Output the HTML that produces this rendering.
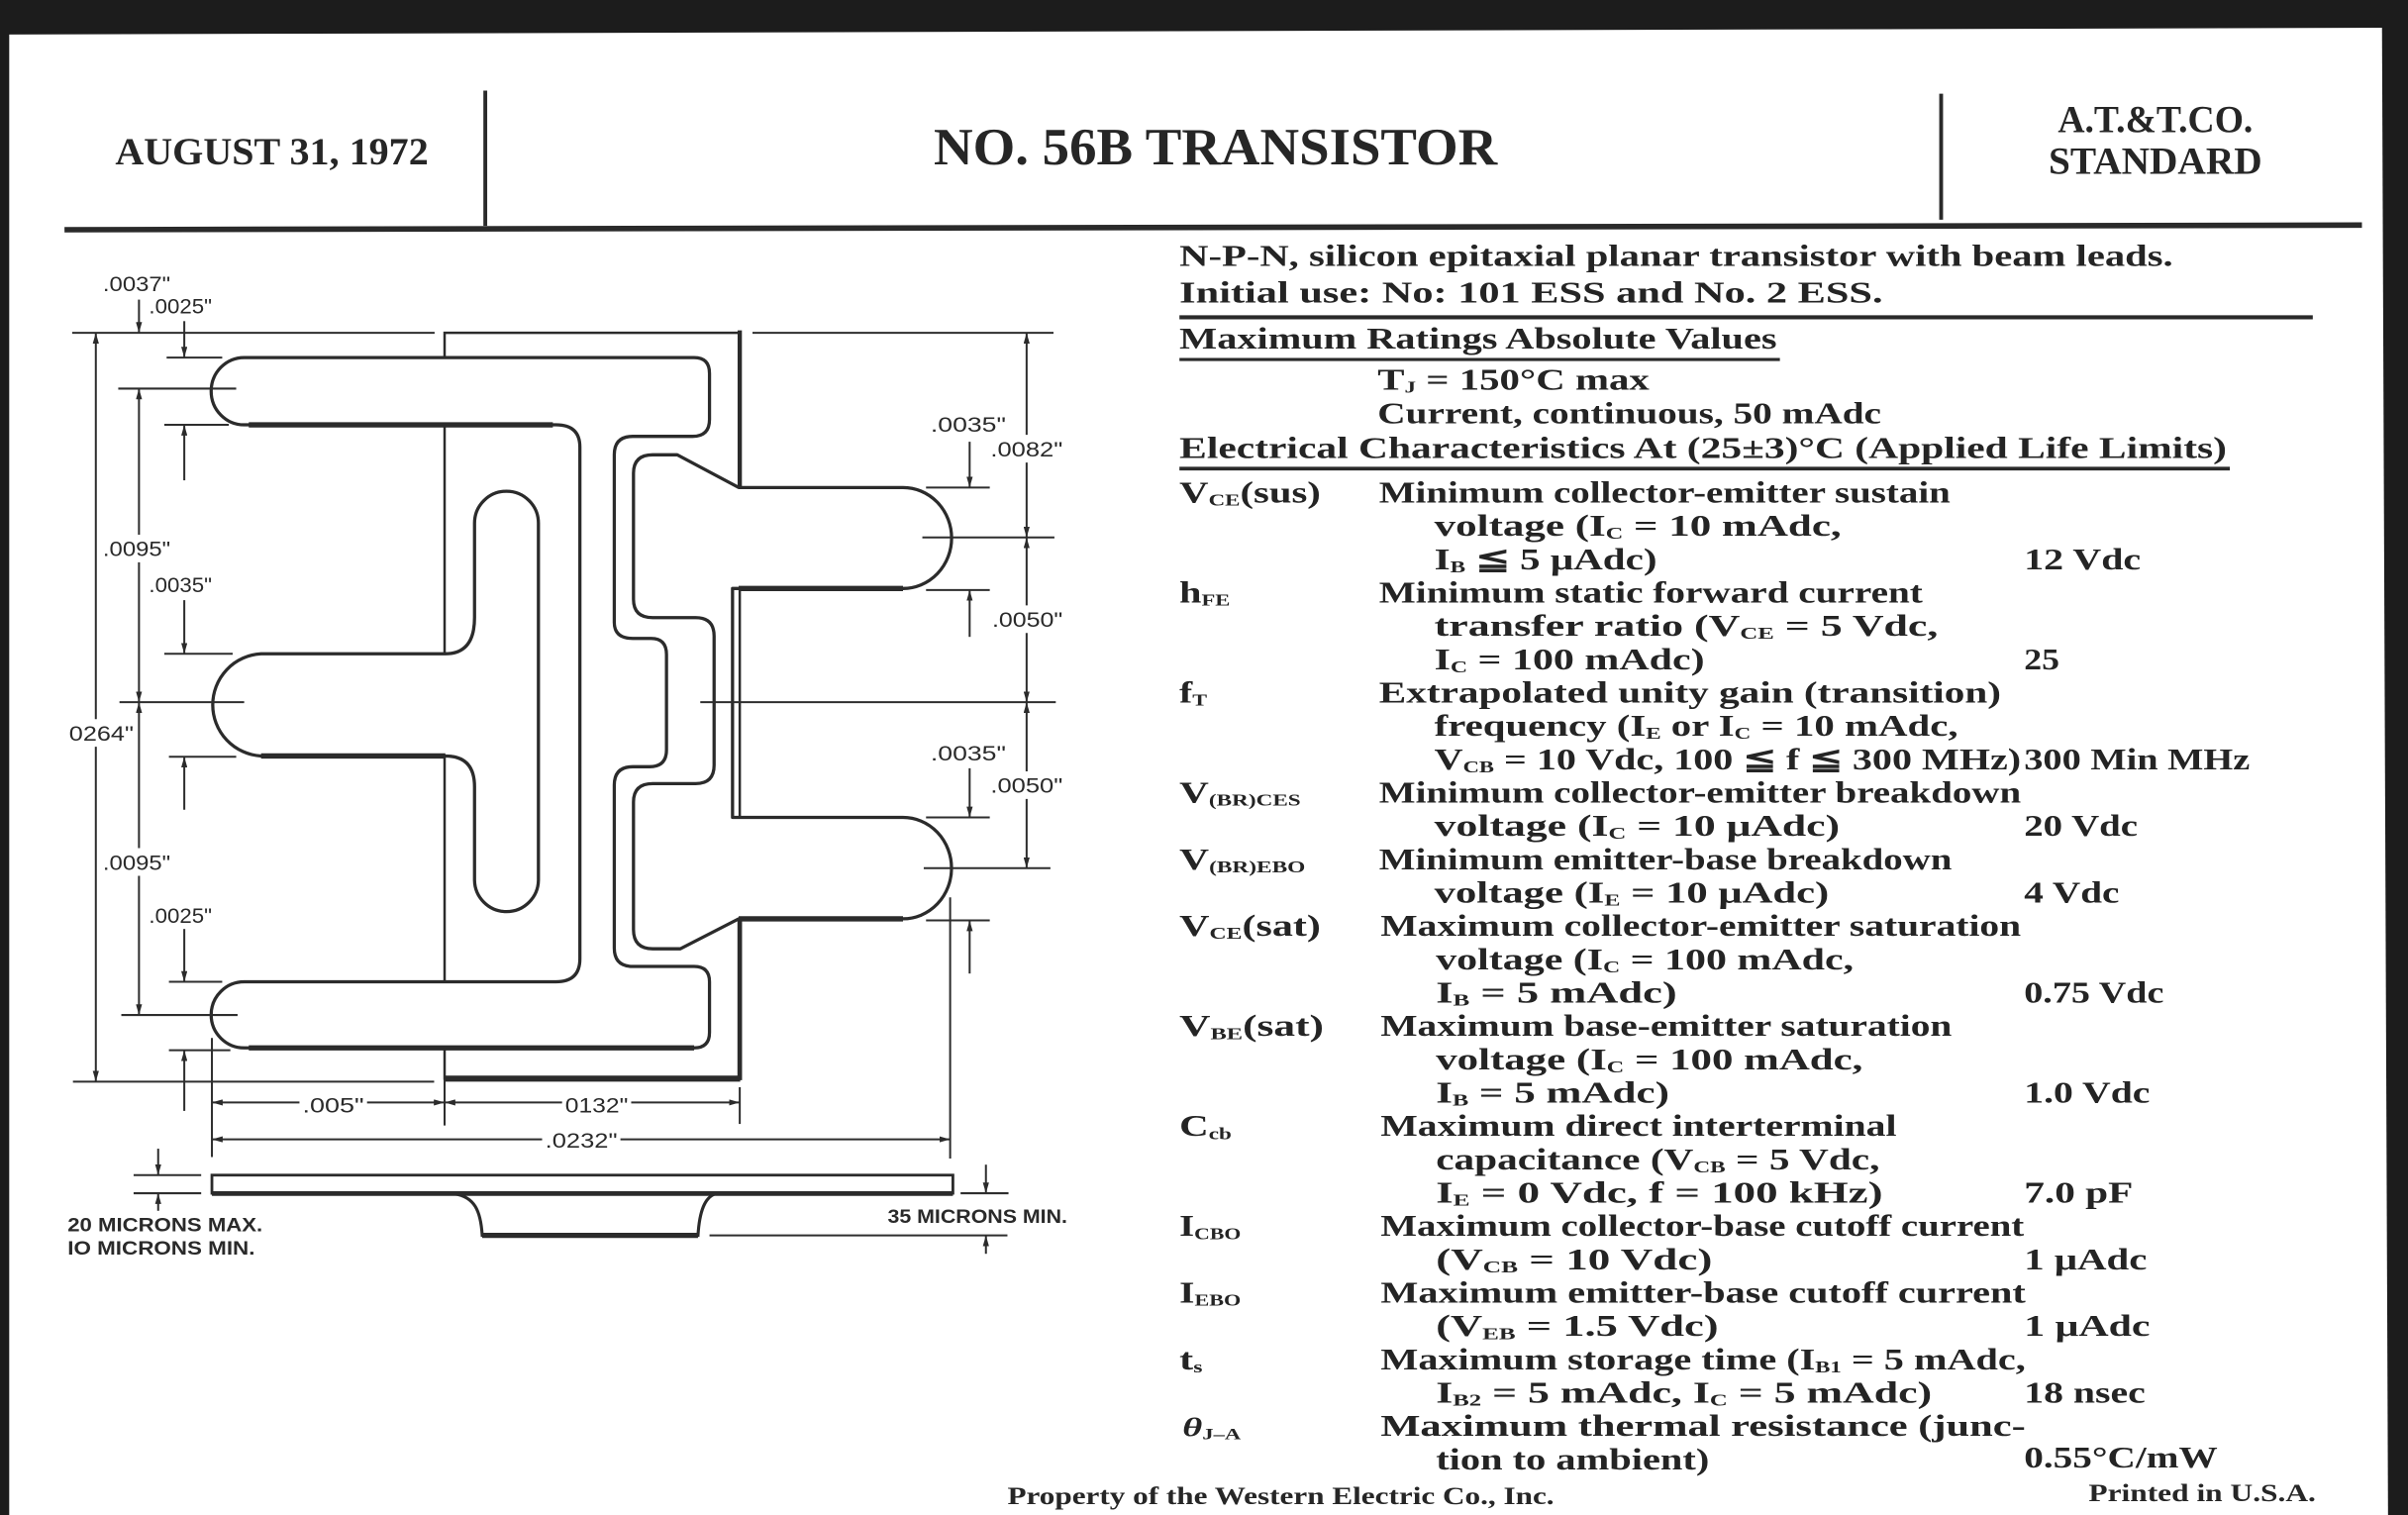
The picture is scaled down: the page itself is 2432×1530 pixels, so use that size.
<!DOCTYPE html>
<html><head><meta charset="utf-8">
<style>
html,body{margin:0;padding:0;background:#fff;overflow:hidden;}
svg{display:block;}
.b{font-family:"Liberation Serif",serif;font-weight:bold;font-size:19.5px;fill:#242424;}
.h{font-family:"Liberation Serif",serif;font-weight:bold;fill:#262626;}
.d{font-family:"Liberation Sans Narrow","Liberation Sans",sans-serif;font-size:14px;fill:#2a2a2a;}
.m{font-family:"Liberation Sans Narrow","Liberation Sans",sans-serif;font-size:12.5px;fill:#2a2a2a;font-weight:bold;}
.ln{stroke:#2e2e2e;stroke-width:1.3;fill:none;}
.ol{stroke:#2b2b2b;stroke-width:2.1;fill:#fff;stroke-linejoin:round;}
.tk{stroke:#2b2b2b;stroke-width:3.4;fill:none;}
</style></head>
<body>
<svg width="2432" height="1530" viewBox="0 0 1568 986" preserveAspectRatio="none" xmlns="http://www.w3.org/2000/svg">
<defs>
<marker id="ar" viewBox="0 0 7 4" refX="7" refY="2" markerWidth="7" markerHeight="4" markerUnits="userSpaceOnUse" orient="auto"><path d="M0,0L7,2L0,4Z" fill="#2b2b2b"/></marker>
</defs>
<rect x="0" y="0" width="1568" height="986" fill="#fff"/>
<!-- black scan borders -->
<polygon points="0,0 1568,0 1568,18 0,22.5" fill="#1c1c1c"/>
<rect x="0" y="0" width="6" height="986" fill="#1c1c1c"/>
<polygon points="1551,0 1568,0 1568,986 1555,986" fill="#1c1c1c"/>

<!-- header -->
<text class="h" x="75" y="107" font-size="25" textLength="204" lengthAdjust="spacingAndGlyphs">AUGUST 31, 1972</text>
<line x1="316" y1="59" x2="316" y2="147" stroke="#2a2a2a" stroke-width="2.5"/>
<text class="h" x="608" y="107" font-size="34" textLength="367" lengthAdjust="spacingAndGlyphs">NO. 56B TRANSISTOR</text>
<line x1="1264" y1="61" x2="1264" y2="143" stroke="#2a2a2a" stroke-width="2.5"/>
<text class="h" x="1340" y="86" font-size="25" textLength="127" lengthAdjust="spacingAndGlyphs">A.T.&amp;T.CO.</text>
<text class="h" x="1334" y="113" font-size="25" textLength="139" lengthAdjust="spacingAndGlyphs">STANDARD</text>
<line x1="42" y1="149.5" x2="1538" y2="146.5" stroke="#2a2a2a" stroke-width="3.6"/>

<!-- right column headings -->
<g class="b">
<text x="768" y="173" textLength="647" lengthAdjust="spacingAndGlyphs" font-size="20">N-P-N, silicon epitaxial planar transistor with beam leads.</text>
<text x="768" y="197" textLength="458" lengthAdjust="spacingAndGlyphs" font-size="20">Initial use: No: 101 ESS and No. 2 ESS.</text>
<text x="768" y="227" textLength="389" lengthAdjust="spacingAndGlyphs">Maximum Ratings Absolute Values</text>
<text x="897" y="253.5" textLength="177" lengthAdjust="spacingAndGlyphs">T<tspan dy="2" font-size="11">J</tspan><tspan dy="-2"> = 150°C max</tspan></text>
<text x="897" y="275.5" textLength="328" lengthAdjust="spacingAndGlyphs">Current, continuous, 50 mAdc</text>
<text x="768" y="298" textLength="682" lengthAdjust="spacingAndGlyphs">Electrical Characteristics At (25±3)°C (Applied Life Limits)</text>
</g>
<line x1="768" y1="206.5" x2="1506" y2="206.5" stroke="#2a2a2a" stroke-width="2.6"/>
<line x1="768" y1="234" x2="1159" y2="234" stroke="#2a2a2a" stroke-width="2"/>
<line x1="768" y1="305" x2="1452" y2="305" stroke="#2a2a2a" stroke-width="2.4"/>

<!-- table -->
<g class="b">
<text x="768" y="327" textLength="92" lengthAdjust="spacingAndGlyphs">V<tspan dy="2" font-size="11">CE</tspan><tspan dy="-2">(sus)</tspan></text>
<text x="898" y="327" textLength="372" lengthAdjust="spacingAndGlyphs">Minimum collector-emitter sustain</text>
<text x="934" y="348.7" textLength="265" lengthAdjust="spacingAndGlyphs">voltage (I<tspan dy="2" font-size="11">C</tspan><tspan dy="-2"> = 10 mAdc,</tspan></text>
<text x="934" y="370.4" textLength="145" lengthAdjust="spacingAndGlyphs">I<tspan dy="2" font-size="11">B</tspan><tspan dy="-2"> ≦ 5 μAdc)</tspan></text>
<text x="1318" y="370.4" textLength="76" lengthAdjust="spacingAndGlyphs">12 Vdc</text>

<text x="768" y="392.1" textLength="33" lengthAdjust="spacingAndGlyphs">h<tspan dy="2" font-size="11">FE</tspan></text>
<text x="898" y="392.1" textLength="354" lengthAdjust="spacingAndGlyphs">Minimum static forward current</text>
<text x="934" y="413.8" textLength="328" lengthAdjust="spacingAndGlyphs">transfer ratio (V<tspan dy="2" font-size="11">CE</tspan><tspan dy="-2"> = 5 Vdc,</tspan></text>
<text x="934" y="435.5" textLength="176" lengthAdjust="spacingAndGlyphs">I<tspan dy="2" font-size="11">C</tspan><tspan dy="-2"> = 100 mAdc)</tspan></text>
<text x="1318" y="435.5" textLength="23" lengthAdjust="spacingAndGlyphs">25</text>

<text x="768" y="457.2" textLength="18" lengthAdjust="spacingAndGlyphs">f<tspan dy="2" font-size="11">T</tspan></text>
<text x="898" y="457.2" textLength="405" lengthAdjust="spacingAndGlyphs">Extrapolated unity gain (transition)</text>
<text x="934" y="478.9" textLength="341" lengthAdjust="spacingAndGlyphs">frequency (I<tspan dy="2" font-size="11">E</tspan><tspan dy="-2"> or I</tspan><tspan dy="2" font-size="11">C</tspan><tspan dy="-2"> = 10 mAdc,</tspan></text>
<text x="934" y="500.6" textLength="382" lengthAdjust="spacingAndGlyphs">V<tspan dy="2" font-size="11">CB</tspan><tspan dy="-2"> = 10 Vdc, 100 ≦ f ≦ 300 MHz)</tspan></text>
<text x="1318" y="500.6" textLength="147" lengthAdjust="spacingAndGlyphs">300 Min MHz</text>

<text x="768" y="522.3" textLength="79" lengthAdjust="spacingAndGlyphs">V<tspan dy="2" font-size="11">(BR)CES</tspan></text>
<text x="898" y="522.3" textLength="418" lengthAdjust="spacingAndGlyphs">Minimum collector-emitter breakdown</text>
<text x="934" y="544" textLength="264" lengthAdjust="spacingAndGlyphs">voltage (I<tspan dy="2" font-size="11">C</tspan><tspan dy="-2"> = 10 μAdc)</tspan></text>
<text x="1318" y="544" textLength="74" lengthAdjust="spacingAndGlyphs">20 Vdc</text>

<text x="768" y="565.7" textLength="82" lengthAdjust="spacingAndGlyphs">V<tspan dy="2" font-size="11">(BR)EBO</tspan></text>
<text x="898" y="565.7" textLength="373" lengthAdjust="spacingAndGlyphs">Minimum emitter-base breakdown</text>
<text x="934" y="587.4" textLength="257" lengthAdjust="spacingAndGlyphs">voltage (I<tspan dy="2" font-size="11">E</tspan><tspan dy="-2"> = 10 μAdc)</tspan></text>
<text x="1318" y="587.4" textLength="62" lengthAdjust="spacingAndGlyphs">4 Vdc</text>

<text x="768" y="609.1" textLength="92" lengthAdjust="spacingAndGlyphs">V<tspan dy="2" font-size="11">CE</tspan><tspan dy="-2">(sat)</tspan></text>
<text x="899" y="609.1" textLength="417" lengthAdjust="spacingAndGlyphs">Maximum collector-emitter saturation</text>
<text x="935" y="630.8" textLength="272" lengthAdjust="spacingAndGlyphs">voltage (I<tspan dy="2" font-size="11">C</tspan><tspan dy="-2"> = 100 mAdc,</tspan></text>
<text x="935" y="652.5" textLength="157" lengthAdjust="spacingAndGlyphs">I<tspan dy="2" font-size="11">B</tspan><tspan dy="-2"> = 5 mAdc)</tspan></text>
<text x="1318" y="652.5" textLength="91" lengthAdjust="spacingAndGlyphs">0.75 Vdc</text>

<text x="768" y="674.2" textLength="94" lengthAdjust="spacingAndGlyphs">V<tspan dy="2" font-size="11">BE</tspan><tspan dy="-2">(sat)</tspan></text>
<text x="899" y="674.2" textLength="372" lengthAdjust="spacingAndGlyphs">Maximum base-emitter saturation</text>
<text x="935" y="695.9" textLength="278" lengthAdjust="spacingAndGlyphs">voltage (I<tspan dy="2" font-size="11">C</tspan><tspan dy="-2"> = 100 mAdc,</tspan></text>
<text x="935" y="717.6" textLength="152" lengthAdjust="spacingAndGlyphs">I<tspan dy="2" font-size="11">B</tspan><tspan dy="-2"> = 5 mAdc)</tspan></text>
<text x="1318" y="717.6" textLength="82" lengthAdjust="spacingAndGlyphs">1.0 Vdc</text>

<text x="768" y="739.3" textLength="34" lengthAdjust="spacingAndGlyphs">C<tspan dy="2" font-size="11">cb</tspan></text>
<text x="899" y="739.3" textLength="336" lengthAdjust="spacingAndGlyphs">Maximum direct interterminal</text>
<text x="935" y="761" textLength="289" lengthAdjust="spacingAndGlyphs">capacitance (V<tspan dy="2" font-size="11">CB</tspan><tspan dy="-2"> = 5 Vdc,</tspan></text>
<text x="935" y="782.7" textLength="291" lengthAdjust="spacingAndGlyphs">I<tspan dy="2" font-size="11">E</tspan><tspan dy="-2"> = 0 Vdc, f = 100 kHz)</tspan></text>
<text x="1318" y="782.7" textLength="71" lengthAdjust="spacingAndGlyphs">7.0 pF</text>

<text x="768" y="804.4" textLength="40" lengthAdjust="spacingAndGlyphs">I<tspan dy="2" font-size="11">CBO</tspan></text>
<text x="899" y="804.4" textLength="419" lengthAdjust="spacingAndGlyphs">Maximum collector-base cutoff current</text>
<text x="935" y="826.1" textLength="180" lengthAdjust="spacingAndGlyphs">(V<tspan dy="2" font-size="11">CB</tspan><tspan dy="-2"> = 10 Vdc)</tspan></text>
<text x="1318" y="826.1" textLength="80" lengthAdjust="spacingAndGlyphs">1 μAdc</text>

<text x="768" y="847.8" textLength="40" lengthAdjust="spacingAndGlyphs">I<tspan dy="2" font-size="11">EBO</tspan></text>
<text x="899" y="847.8" textLength="420" lengthAdjust="spacingAndGlyphs">Maximum emitter-base cutoff current</text>
<text x="935" y="869.5" textLength="184" lengthAdjust="spacingAndGlyphs">(V<tspan dy="2" font-size="11">EB</tspan><tspan dy="-2"> = 1.5 Vdc)</tspan></text>
<text x="1318" y="869.5" textLength="82" lengthAdjust="spacingAndGlyphs">1 μAdc</text>

<text x="768" y="891.2" textLength="15" lengthAdjust="spacingAndGlyphs">t<tspan dy="2" font-size="11">s</tspan></text>
<text x="899" y="891.2" textLength="420" lengthAdjust="spacingAndGlyphs">Maximum storage time (I<tspan dy="2" font-size="11">B1</tspan><tspan dy="-2"> = 5 mAdc,</tspan></text>
<text x="935" y="912.9" textLength="323" lengthAdjust="spacingAndGlyphs">I<tspan dy="2" font-size="11">B2</tspan><tspan dy="-2"> = 5 mAdc, I</tspan><tspan dy="2" font-size="11">C</tspan><tspan dy="-2"> = 5 mAdc)</tspan></text>
<text x="1318" y="912.9" textLength="79" lengthAdjust="spacingAndGlyphs">18 nsec</text>

<text x="770" y="934.6" textLength="38" lengthAdjust="spacingAndGlyphs" font-style="italic" font-size="17">θ<tspan dy="2" font-size="10" font-style="normal">J–A</tspan></text>
<text x="899" y="934.6" textLength="420" lengthAdjust="spacingAndGlyphs">Maximum thermal resistance (junc-</text>
<text x="935" y="956.3" textLength="178" lengthAdjust="spacingAndGlyphs">tion to ambient)</text>
<text x="1318" y="955" textLength="126" lengthAdjust="spacingAndGlyphs">0.55°C/mW</text>
</g>

<!-- footer -->
<text class="h" x="656" y="979" font-size="16" textLength="356" lengthAdjust="spacingAndGlyphs">Property of the Western Electric Co., Inc.</text>
<text class="h" x="1360" y="977" font-size="16" textLength="148" lengthAdjust="spacingAndGlyphs">Printed in U.S.A.</text>

<!-- ============ DRAWING ============ -->
<!-- collector / die rectangle -->
<rect x="289.5" y="216.6" width="192.2" height="485.4" fill="none" stroke="#2b2b2b" stroke-width="1.6"/>
<line x1="481.7" y1="215" x2="481.7" y2="318" stroke="#2b2b2b" stroke-width="2.8"/>
<line x1="481.7" y1="597" x2="481.7" y2="703" stroke="#2b2b2b" stroke-width="3"/>

<!-- outer C conductor -->
<path class="ol" d="M159,232.7 L452,232.7 Q462,232.7 462,243 L462,273 Q462,284 451,284 L412,284 Q400,284 400,296 L400,405 Q400,415.5 412,415.5 L424,415.5 Q434,415.5 434,426 L434,488 Q434,499 423,499 L412,499 Q400,499 400,511 L400,617 Q400,629 412,629 L452,629 Q462,629 462,639 L462,672 Q462,682 452,682 L159,682 A21.5 21.5 0 0 1 159,639 L362,639 Q377.6,639 377.6,624 L377.6,291 Q377.6,276.5 362,276.5 L159,276.5 A21.5 21.9 0 0 1 159,232.7 Z"/>

<!-- T conductor -->
<path class="ol" d="M170,425.5 L290,425.5 Q309,425.5 309,402 L309,340.5 A20.8 20.8 0 0 1 350.6,340.5 L350.6,572.5 A20.8 20.8 0 0 1 309,572.5 L309,512 Q309,492 290,492 L170,492 A33.3 33.3 0 0 1 170,425.5 Z"/>

<!-- right conductor with two fingers -->
<path class="ol" d="M425,296 L441,296 L481,317.3 L588,317.3 A31.6 32.8 0 0 1 588,383 L477,383 L477,532 L588,532 A31.6 33 0 0 1 588,598 L481,598 L443,617.5 L425,617.5 Q412.5,617.5 412.5,605 L412.5,522 Q412.5,510 425,510 L453,510 Q465,510 465,498 L465,414 Q465,402 453,402 L425,402 Q412.5,402 412.5,390 L412.5,308 Q412.5,296 425,296 Z"/>

<!-- heavy shadow edges -->
<line class="tk" x1="162" y1="276.5" x2="360" y2="276.5"/>
<line class="tk" x1="170" y1="492" x2="290" y2="492"/>
<line class="tk" x1="162" y1="682" x2="452" y2="682"/>
<line class="tk" x1="481" y1="383" x2="588" y2="383"/>
<line class="tk" x1="481" y1="598" x2="588" y2="598"/>
<line x1="289.5" y1="702" x2="482" y2="702" stroke="#2b2b2b" stroke-width="4"/>

<!-- extension lines -->
<g class="ln">
<line x1="47" y1="216.6" x2="283" y2="216.6"/>
<line x1="490" y1="216.6" x2="686" y2="216.6"/>
<line x1="47.5" y1="704" x2="282.7" y2="704"/>
<line x1="108.5" y1="232.7" x2="144.7" y2="232.7"/>
<line x1="77" y1="252.9" x2="153.8" y2="252.9"/>
<line x1="107" y1="276.5" x2="149" y2="276.5"/>
<line x1="107" y1="425.5" x2="151.5" y2="425.5"/>
<line x1="77.8" y1="457" x2="159" y2="457"/>
<line x1="110" y1="492.5" x2="153.8" y2="492.5"/>
<line x1="110" y1="639" x2="144.7" y2="639"/>
<line x1="79" y1="660.6" x2="154.7" y2="660.6"/>
<line x1="110" y1="683.5" x2="150" y2="683.5"/>
<line x1="603" y1="317.3" x2="644.5" y2="317.3"/>
<line x1="600.6" y1="349.8" x2="686.6" y2="349.8"/>
<line x1="603" y1="384" x2="644.5" y2="384"/>
<line x1="456" y1="457" x2="687.5" y2="457"/>
<line x1="603" y1="532" x2="644.5" y2="532"/>
<line x1="601.5" y1="565" x2="684" y2="565"/>
<line x1="603" y1="599" x2="644.5" y2="599"/>
<line x1="138" y1="675.5" x2="138" y2="753"/>
<line x1="289.5" y1="702" x2="289.5" y2="732.5"/>
<line x1="481.7" y1="707.6" x2="481.7" y2="731.5"/>
<line x1="618.7" y1="584" x2="618.7" y2="754"/>
<line x1="87" y1="764.8" x2="131" y2="764.8"/>
<line x1="87" y1="776.6" x2="131" y2="776.6"/>
<line x1="625.5" y1="776.6" x2="656.7" y2="776.6"/>
<line x1="462" y1="804" x2="656" y2="804"/>
</g>

<!-- dimension lines with arrows -->
<g class="ln" marker-end="url(#ar)">
<line x1="62.4" y1="468" x2="62.4" y2="216.6"/>
<line x1="62.4" y1="486" x2="62.4" y2="704"/>
<line x1="90.5" y1="348" x2="90.5" y2="252.9"/>
<line x1="90.5" y1="366" x2="90.5" y2="457"/>
<line x1="90.5" y1="552" x2="90.5" y2="457"/>
<line x1="90.5" y1="570" x2="90.5" y2="660.6"/>
<line x1="90.5" y1="195" x2="90.5" y2="216.6"/>
<line x1="120" y1="209" x2="120" y2="232.7"/>
<line x1="120" y1="312.6" x2="120" y2="276.5"/>
<line x1="120" y1="390.6" x2="120" y2="425.5"/>
<line x1="120" y1="527" x2="120" y2="492.5"/>
<line x1="120" y1="604.6" x2="120" y2="639"/>
<line x1="120" y1="723" x2="120" y2="683.5"/>
<line x1="668.5" y1="283" x2="668.5" y2="216.6"/>
<line x1="668.5" y1="301" x2="668.5" y2="349.8"/>
<line x1="668.5" y1="394" x2="668.5" y2="349.8"/>
<line x1="668.5" y1="412" x2="668.5" y2="457"/>
<line x1="668.5" y1="502" x2="668.5" y2="457"/>
<line x1="668.5" y1="520" x2="668.5" y2="565"/>
<line x1="631.4" y1="287.5" x2="631.4" y2="317.3"/>
<line x1="631.4" y1="414.5" x2="631.4" y2="384"/>
<line x1="631.4" y1="500" x2="631.4" y2="532"/>
<line x1="631.4" y1="633.6" x2="631.4" y2="599"/>
<line x1="195" y1="717.5" x2="138" y2="717.5"/>
<line x1="239" y1="717.5" x2="289.5" y2="717.5"/>
<line x1="366" y1="717.5" x2="289.5" y2="717.5"/>
<line x1="411" y1="717.5" x2="481.7" y2="717.5"/>
<line x1="353" y1="741.5" x2="138" y2="741.5"/>
<line x1="404" y1="741.5" x2="618.7" y2="741.5"/>
<line x1="103" y1="747.6" x2="103" y2="764.8"/>
<line x1="103" y1="788" x2="103" y2="776.6"/>
<line x1="642" y1="758" x2="642" y2="776.6"/>
<line x1="642" y1="816" x2="642" y2="804"/>
</g>

<!-- side profile view -->
<rect x="138" y="764.8" width="482.5" height="11.8" fill="#fff" stroke="#2b2b2b" stroke-width="1.8"/>
<path d="M296,777 C309,779 313,788 314,804 L454.5,804 C455.5,788 459,779 466,777" fill="#fff" stroke="#2b2b2b" stroke-width="2"/>
<line x1="138" y1="776.8" x2="620.5" y2="776.8" stroke="#2b2b2b" stroke-width="3"/>
<line x1="314" y1="804" x2="454.5" y2="804" stroke="#2b2b2b" stroke-width="3.4"/>

<!-- dimension labels -->
<g class="d">
<text x="67" y="189.5" textLength="44" lengthAdjust="spacingAndGlyphs">.0037"</text>
<text x="97" y="204" textLength="41" lengthAdjust="spacingAndGlyphs">.0025"</text>
<text x="67" y="362" textLength="44" lengthAdjust="spacingAndGlyphs">.0095"</text>
<text x="97" y="385.5" textLength="41" lengthAdjust="spacingAndGlyphs">.0035"</text>
<text x="45" y="482" textLength="42" lengthAdjust="spacingAndGlyphs">0264"</text>
<text x="67" y="566" textLength="44" lengthAdjust="spacingAndGlyphs">.0095"</text>
<text x="97" y="600.5" textLength="41" lengthAdjust="spacingAndGlyphs">.0025"</text>
<text x="606" y="281" textLength="49" lengthAdjust="spacingAndGlyphs">.0035"</text>
<text x="645" y="297" textLength="47" lengthAdjust="spacingAndGlyphs">.0082"</text>
<text x="646" y="408" textLength="46" lengthAdjust="spacingAndGlyphs">.0050"</text>
<text x="606" y="495" textLength="49" lengthAdjust="spacingAndGlyphs">.0035"</text>
<text x="645" y="516" textLength="47" lengthAdjust="spacingAndGlyphs">.0050"</text>
<text x="197" y="724" textLength="40" lengthAdjust="spacingAndGlyphs">.005"</text>
<text x="368" y="724" textLength="41" lengthAdjust="spacingAndGlyphs">0132"</text>
<text x="355" y="747" textLength="47" lengthAdjust="spacingAndGlyphs">.0232"</text>
</g>
<g class="m">
<text x="44" y="801.5" textLength="127" lengthAdjust="spacingAndGlyphs">20 MICRONS MAX.</text>
<text x="44" y="816.5" textLength="122" lengthAdjust="spacingAndGlyphs">IO MICRONS MIN.</text>
<text x="578" y="796" textLength="117" lengthAdjust="spacingAndGlyphs">35 MICRONS MIN.</text>
</g>
</svg>
</body></html>
